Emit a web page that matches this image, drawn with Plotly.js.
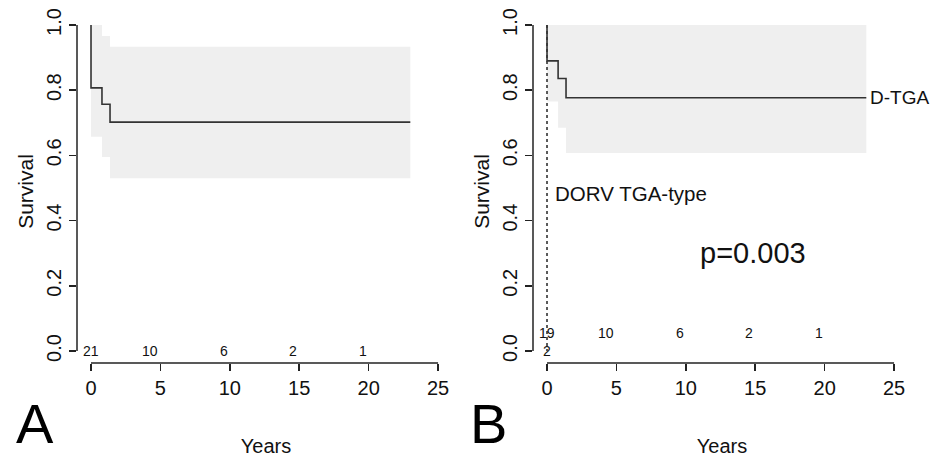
<!DOCTYPE html>
<html><head><meta charset="utf-8">
<script src="https://cdn.plot.ly/plotly-3.0.1.min.js"></script>
<style>html,body{margin:0;padding:0;background:#fff}</style>
</head><body><div id="chart" style="width:940px;height:457px"></div>
<script>
// ---- Panel A: overall survival ----
const kmA_t  = [0, 0, 0.79, 1.37, 23];
const kmA_s  = [1, 0.807, 0.757, 0.702, 0.702];
const ciA_t  = [0, 0.79, 1.37, 23];
const ciA_up = [1.0, 0.966, 0.933, 0.933];
const ciA_lo = [0.657, 0.595, 0.53, 0.53];

// ---- Panel B: D-TGA vs DORV TGA-type ----
const kmB_tga_t = [0, 0, 0.8, 1.37, 23];
const kmB_tga_s = [1, 0.89, 0.836, 0.777, 0.777];
const ciB_t  = [0, 0.8, 1.37, 23];
const ciB_up = [1.0, 1.0, 1.0, 1.0];
const ciB_lo = [0.765, 0.685, 0.607, 0.607];
const kmB_dorv_t = [0, 0];
const kmB_dorv_s = [1, 0];

// ---- numbers at risk ----
const riskTimes  = [0, 5, 10, 15, 20];
const riskA      = [21, 10, 6, 2, 1];
const riskB_tga  = [19, 10, 6, 2, 1];
const riskB_dorv = [2];

const xTicks = [0, 5, 10, 15, 20, 25];
const yTicks = [0, 0.2, 0.4, 0.6, 0.8, 1.0];

const W = 940, H = 457;
const FONT = 'Liberation Sans, Arial, Helvetica, sans-serif';
const INK = '#222';
const LINE = '#333';
const FILL = '#efefef';

function ci(t, up, lo, xa, ya) {
  return [
    {x: t, y: up, xaxis: xa, yaxis: ya, mode: 'lines', line: {width: 0, shape: 'hv'},
     hoverinfo: 'skip', showlegend: false},
    {x: t, y: lo, xaxis: xa, yaxis: ya, mode: 'lines', line: {width: 0, shape: 'hv'},
     fill: 'tonexty', fillcolor: FILL, hoverinfo: 'skip', showlegend: false}
  ];
}

const data = [
  ...ci(ciA_t, ciA_up, ciA_lo, 'x', 'y'),
  {x: kmA_t, y: kmA_s, xaxis: 'x', yaxis: 'y', mode: 'lines',
   line: {color: LINE, width: 1.6, shape: 'hv'}, showlegend: false},
  ...ci(ciB_t, ciB_up, ciB_lo, 'x2', 'y2'),
  {x: kmB_tga_t, y: kmB_tga_s, xaxis: 'x2', yaxis: 'y2', mode: 'lines',
   line: {color: LINE, width: 1.6, shape: 'hv'}, showlegend: false},
  {x: kmB_dorv_t, y: kmB_dorv_s, xaxis: 'x2', yaxis: 'y2', mode: 'lines',
   line: {color: LINE, width: 1.6, dash: 'dot'}, showlegend: false}
];

const yDom = [1 - 363 / H, 1 - 20 / H];
const xRange = [-1.009, 26.22];
const yRange = [-0.0368, 1.0153];

function xAxis(dom, anchor) {
  return {domain: dom, anchor: anchor, range: xRange, showline: false, showgrid: false,
    zeroline: false, ticks: 'outside', ticklen: 7, tickwidth: 1.5, tickcolor: INK,
    tickvals: xTicks, tickfont: {size: 20, color: '#111'},
    title: {text: 'Years', font: {size: 20, color: '#111'}, standoff: 44}};
}
function yAxis(anchor) {
  return {domain: yDom, anchor: anchor, range: yRange, showline: false, showgrid: false,
    zeroline: false, ticks: 'outside', ticklen: 7, tickwidth: 1.5, tickcolor: INK,
    tickvals: yTicks, tickformat: '.1f', tickangle: -90, tickfont: {size: 20, color: '#111'},
    title: {text: 'Survival', font: {size: 21, color: '#111'}, standoff: 3}};
}

function axisLines(xa, ya) {
  return [
    {type: 'line', xref: xa, yref: ya + ' domain', x0: xTicks[0], x1: xTicks[xTicks.length - 1],
     y0: 0, y1: 0, line: {color: INK, width: 1.5}},
    {type: 'line', xref: xa + ' domain', yref: ya, x0: 0, x1: 0,
     y0: yTicks[0], y1: yTicks[yTicks.length - 1], line: {color: INK, width: 1.5}}
  ];
}

function riskNotes(counts, xa, ya, yv) {
  return counts.map((n, i) => ({
    x: riskTimes[i], y: yv, xref: xa, yref: ya, text: String(n), showarrow: false,
    xanchor: i === 0 ? 'center' : 'right', yanchor: 'middle',
    font: {size: 14, color: '#111'}
  }));
}

const annotations = [
  ...riskNotes(riskA, 'x', 'y', 0),
  ...riskNotes(riskB_tga, 'x2', 'y2', 0.055),
  ...riskNotes(riskB_dorv, 'x2', 'y2', 0),
  {x: kmB_tga_t[kmB_tga_t.length - 1], y: kmB_tga_s[kmB_tga_s.length - 1], xref: 'x2', yref: 'y2',
   text: 'D-TGA', showarrow: false, xanchor: 'left', yanchor: 'middle', xshift: 2,
   font: {size: 19, color: '#111'}},
  {x: 0.45, y: 0.483, xref: 'x2', yref: 'y2', text: 'DORV TGA-type', showarrow: false,
   xanchor: 'left', yanchor: 'middle', font: {size: 20.5, color: '#111'}},
  {x: 14.85, y: 0.30, xref: 'x2', yref: 'y2', text: 'p=0.003', showarrow: false,
   xanchor: 'center', yanchor: 'middle', font: {size: 29, color: '#111'}},
  {x: 35 / W, y: 0, xref: 'paper', yref: 'paper', text: 'A', showarrow: false,
   xanchor: 'center', yanchor: 'bottom', font: {size: 56, color: '#000'}},
  {x: 488 / W, y: 0, xref: 'paper', yref: 'paper', text: 'B', showarrow: false,
   xanchor: 'center', yanchor: 'bottom', font: {size: 56, color: '#000'}}
];

const layout = {
  width: W, height: H,
  margin: {l: 0, r: 0, t: 0, b: 0},
  paper_bgcolor: '#fff', plot_bgcolor: '#fff',
  font: {family: FONT, color: '#111'},
  xaxis: xAxis([77 / W, 455 / W], 'y'),
  yaxis: yAxis('x'),
  xaxis2: xAxis([533 / W, 911 / W], 'y2'),
  yaxis2: yAxis('x2'),
  shapes: [...axisLines('x', 'y'), ...axisLines('x2', 'y2')],
  annotations: annotations
};

Plotly.newPlot('chart', data, layout, {staticPlot: true, displayModeBar: false});
</script>
</body></html>
